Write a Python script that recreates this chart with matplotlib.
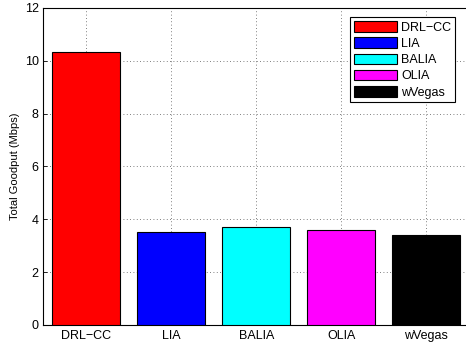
import matplotlib
matplotlib.use("Agg")
import matplotlib.pyplot as plt

plt.rcParams['font.family'] = ['Liberation Sans', 'DejaVu Sans']

# goodput per algorithm
algos = ['DRL\u2212CC', 'LIA', 'BALIA', 'OLIA', 'wVegas']
goodput = [10.34, 3.52, 3.71, 3.61, 3.40]
colors = ['#ff0000', '#0000ff', '#00ffff', '#ff00ff', '#000000']

fig = plt.figure(figsize=(4.66, 3.45), dpi=100)
ax = fig.add_axes([0.0933, 0.058, 0.913, 0.919])

pos = list(range(1, len(algos) + 1))
bars = ax.bar(pos, goodput, width=0.8, color=colors, edgecolor='black',
              linewidth=0.8, zorder=3)

ax.set_xlim(0.5, 5.5)
ax.set_ylim(0, 12)
ax.set_xticks(pos)
ax.set_xticklabels(algos, fontsize=9)
ax.set_yticks(range(0, 13, 2))
ax.tick_params(axis='y', labelsize=9)
ax.tick_params(direction='in', length=3, width=0.6)
ax.grid(True, linestyle=(0, (1, 3)), color='#555555', linewidth=0.6, zorder=0)
for s in ax.spines.values():
    s.set_linewidth(0.8)

ax.set_ylabel('Total Goodput (Mbps)', fontsize=8, labelpad=3)

leg = ax.legend(bars, algos, loc='upper right', bbox_to_anchor=(0.967, 0.97),
                fontsize=9, fancybox=False, framealpha=1, edgecolor='black',
                handlelength=3.4, handleheight=0.9, labelspacing=0.3,
                handletextpad=0.35, borderpad=0.3, borderaxespad=0)
leg.get_frame().set_linewidth(0.8)

fig.savefig('out.png', dpi=100)
